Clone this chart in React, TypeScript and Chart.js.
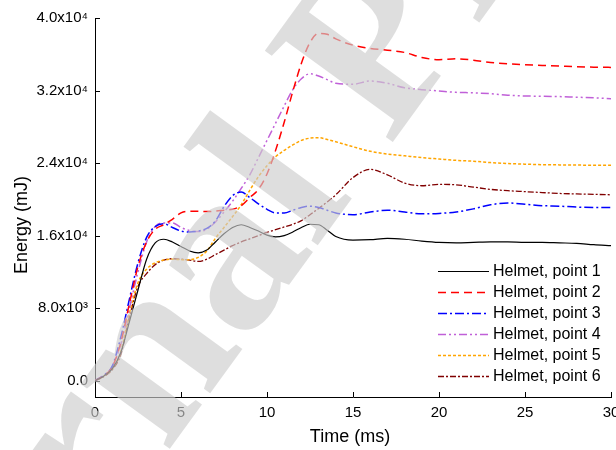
import React, { useEffect, useRef } from "react";
import { Chart, registerables } from "chart.js";

Chart.register(...registerables);

const times = [0, 0.5, 1, 1.5, 2, 2.5, 3, 3.5, 4, 4.5, 5, 5.5, 6, 6.5, 7, 7.5, 8, 8.5, 9, 9.5, 10, 10.5, 11, 11.5, 12, 12.5, 13, 13.5, 14, 15, 16, 17, 18, 19, 20, 21, 22, 23, 24, 25, 26, 27, 28, 29, 30];

const point1 = [0, 500, 1300, 3100, 6500, 10000, 13400, 15200, 15600, 15300, 14800, 14300, 14100, 14400, 15300, 16200, 16900, 17200, 16900, 16500, 16050, 15850, 16000, 16400, 16900, 17250, 17200, 16600, 15900, 15500, 15550, 15700, 15600, 15400, 15250, 15200, 15250, 15300, 15300, 15250, 15250, 15200, 15150, 15000, 14900];
const point2 = [0, 550, 1500, 4200, 8500, 12600, 15300, 16700, 17200, 17800, 18500, 18700, 18700, 18650, 18700, 18800, 18900, 19300, 20200, 21100, 22800, 25400, 28500, 31900, 35000, 37300, 38300, 38200, 37700, 37000, 36650, 36450, 36200, 35650, 35400, 35500, 35350, 35100, 34950, 34850, 34770, 34700, 34620, 34580, 34550];
const point3 = [0, 600, 1600, 4800, 9000, 13000, 15800, 17000, 17300, 16900, 16500, 16400, 16500, 16800, 17600, 19200, 20400, 20800, 20200, 19500, 18900, 18500, 18500, 18800, 19100, 19250, 19100, 18800, 18500, 18300, 18600, 18800, 18600, 18400, 18450, 18600, 18950, 19400, 19600, 19450, 19300, 19250, 19150, 19100, 19100];
const point4 = [0, 550, 1500, 4000, 8000, 12000, 15300, 17000, 17400, 17400, 16900, 16550, 16450, 16700, 17500, 18600, 19800, 21200, 22700, 24600, 26500, 28400, 30300, 32100, 33300, 33850, 33600, 33200, 32800, 32700, 33050, 32800, 32300, 32100, 31950, 31800, 31750, 31650, 31480, 31400, 31370, 31330, 31260, 31200, 31100];
const point5 = [0, 500, 1300, 3200, 7400, 10800, 12300, 13000, 13300, 13400, 13350, 13350, 13600, 14300, 15700, 16900, 18100, 19400, 21000, 22500, 23700, 24700, 25400, 26000, 26500, 26750, 26800, 26600, 26350, 25800, 25300, 25000, 24800, 24600, 24450, 24300, 24200, 24050, 23950, 23880, 23820, 23800, 23780, 23760, 23750];
const point6 = [0, 450, 1200, 2900, 7000, 10400, 11800, 12800, 13300, 13450, 13400, 13300, 13150, 13400, 13900, 14400, 14900, 15300, 15650, 16000, 16350, 16650, 16950, 17250, 17650, 18300, 19000, 19700, 20500, 22400, 23300, 22700, 21800, 21500, 21650, 21600, 21350, 21100, 20950, 20850, 20750, 20650, 20600, 20550, 20500];

const seriesNames = ["Helmet, point 1", "Helmet, point 2", "Helmet, point 3", "Helmet, point 4", "Helmet, point 5", "Helmet, point 6"];
const xTicks = [0, 5, 10, 15, 20, 25, 30];
const yTicks = [0, 8000, 16000, 24000, 32000, 40000];
const yTickLabels = ["0.0", "8.0x10³", "1.6x10⁴", "2.4x10⁴", "3.2x10⁴", "4.0x10⁴"];
const xTitle = "Time (ms)";
const yTitle = "Energy (mJ)";
const watermark = "Journal Pre-proof";

const styles = [
  { color: "#000000", dash: [], width: 1.2 },
  { color: "#ff0000", dash: [8, 5], width: 1.5 },
  { color: "#0000ff", dash: [9, 3, 2, 3], width: 1.5 },
  { color: "#c060d8", dash: [8, 3, 2, 3, 2, 3], width: 1.5 },
  { color: "#ffa500", dash: [3, 2], width: 1.5 },
  { color: "#800000", dash: [6, 2, 2, 2], width: 1.3 },
];

const FONT = '"Liberation Sans", Arial, sans-serif';

const decorPlugin = {
  id: "decor",
  afterDatasetsDraw(chart: any) {
    const ctx = chart.ctx;
    const xs = chart.scales.x;
    const ys = chart.scales.y;
    const area = chart.chartArea;
    ctx.save();
    ctx.strokeStyle = "#000";
    ctx.lineWidth = 1;
    ctx.beginPath();
    for (const v of xTicks) {
      const px = Math.round(xs.getPixelForValue(v)) + 0.5;
      ctx.moveTo(px, area.bottom);
      ctx.lineTo(px, area.bottom - 5);
    }
    for (const v of yTicks) {
      const py = Math.round(ys.getPixelForValue(v)) + 0.5;
      ctx.moveTo(area.left, py);
      ctx.lineTo(area.left + 5, py);
    }
    ctx.stroke();

    // legend
    ctx.font = `16px ${FONT}`;
    ctx.textBaseline = "middle";
    ctx.textAlign = "left";
    seriesNames.forEach((name, i) => {
      const y = 271 + 21 * i;
      const st = styles[i];
      ctx.strokeStyle = st.color;
      ctx.lineWidth = st.width;
      ctx.setLineDash(st.dash);
      ctx.beginPath();
      ctx.moveTo(438, y + 0.5);
      ctx.lineTo(489, y + 0.5);
      ctx.stroke();
      ctx.setLineDash([]);
      ctx.fillStyle = "#000";
      ctx.fillText(name, 493, y + 1);
    });

    // axis titles
    ctx.font = `18px ${FONT}`;
    ctx.fillStyle = "#000";
    ctx.textAlign = "center";
    ctx.textBaseline = "middle";
    ctx.fillText(xTitle, (area.left + area.right) / 2 - 3, 437);
    ctx.translate(22, 225);
    ctx.rotate(-Math.PI / 2);
    ctx.fillText(yTitle, 0, 0);
    ctx.restore();
  },
  afterDraw(chart: any) {
    const ctx = chart.ctx;
    ctx.save();
    ctx.fillStyle = "rgba(205,205,205,0.65)";
    const size = 240;
    ctx.font = `bold ${size}px "Liberation Serif", serif`;
    ctx.translate(235, 265);
    ctx.rotate((-54 * Math.PI) / 180);
    const pre = ctx.measureText("Journ").width;
    const aW = ctx.measureText("a").width;
    ctx.textBaseline = "alphabetic";
    ctx.textAlign = "left";
    ctx.fillText(watermark, -pre - aW / 2, size * 0.23);
    ctx.restore();
  },
};

export default function App() {
  const ref = useRef<HTMLCanvasElement>(null);
  useEffect(() => {
    const datasetsValues = [point1, point2, point3, point4, point5, point6];
    const chart = new Chart(ref.current!, {
      type: "line",
      data: {
        datasets: datasetsValues.map((vals, i) => ({
          label: seriesNames[i],
          data: vals.map((v, j) => ({ x: times[j], y: v })),
          borderColor: styles[i].color,
          borderDash: styles[i].dash,
          borderWidth: styles[i].width,
          pointRadius: 0,
          fill: false,
          tension: 0.4,
          cubicInterpolationMode: "monotone" as const,
        })),
      },
      options: {
        responsive: false,
        animation: false,
        layout: { padding: { left: 0, right: 5, top: 18, bottom: 0 } },
        plugins: { legend: { display: false }, tooltip: { enabled: false } },
        scales: {
          x: {
            type: "linear",
            min: 0,
            max: 30,
            afterBuildTicks: (s: any) => {
              s.ticks = xTicks.map((v) => ({ value: v }));
            },
            afterFit: (s: any) => {
              s.height = 53;
              s.paddingLeft = 0;
              s.paddingRight = 0;
            },
            grid: { display: true, drawOnChartArea: false, drawTicks: false },
            border: { display: true, color: "#000", width: 1 },
            ticks: {
              color: "#000",
              font: { family: FONT, size: 15 },
              padding: 7,
              maxRotation: 0,
              autoSkip: false,
            },
          },
          y: {
            type: "linear",
            min: -1800,
            max: 40000,
            afterBuildTicks: (s: any) => {
              s.ticks = yTicks.map((v) => ({ value: v }));
            },
            afterFit: (s: any) => {
              s.width = 95;
              s.paddingTop = 0;
              s.paddingBottom = 0;
            },
            grid: { display: true, drawOnChartArea: false, drawTicks: false },
            border: { display: true, color: "#000", width: 1 },
            ticks: {
              color: "#000",
              font: { family: FONT, size: 15 },
              padding: 7,
              autoSkip: false,
              callback: (v: any) => {
                const k = yTicks.indexOf(Number(v));
                return k >= 0 ? yTickLabels[k] : "";
              },
            },
          },
        },
      },
      plugins: [decorPlugin],
    });
    return () => chart.destroy();
  }, []);
  return (
    <div style={{ position: "fixed", left: 0, top: 0, width: 616, height: 450, background: "#fff" }}>
      <canvas ref={ref} width={616} height={450} />
    </div>
  );
}
